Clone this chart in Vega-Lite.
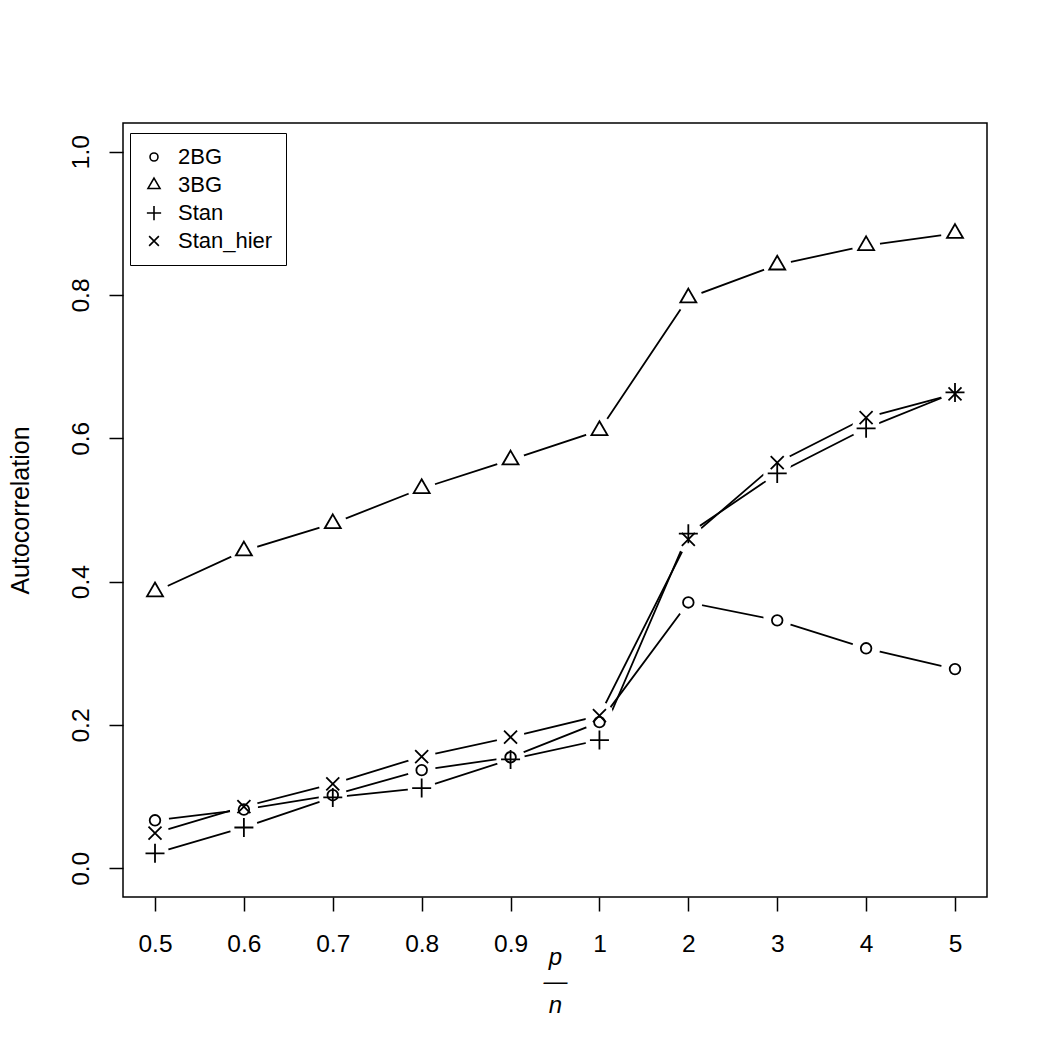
{
  "$schema": "https://vega.github.io/schema/vega-lite/v6.json",
  "autosize": "none",
  "width": 864,
  "height": 774,
  "padding": {"left": 123, "top": 123, "right": 63, "bottom": 153},
  "background": "white",
  "config": {
    "font": "Liberation Sans",
    "view": {"stroke": "black", "strokeWidth": 1.5},
    "axis": {
      "domain": false,
      "grid": false,
      "ticks": true,
      "tickSize": 14,
      "tickWidth": 1.5,
      "tickColor": "black",
      "labelColor": "black",
      "labelFont": "Liberation Sans",
      "labelFontSize": 24.5,
      "titleColor": "black",
      "titleFont": "Liberation Sans",
      "titleFontSize": 25,
      "titleFontWeight": "normal"
    }
  },
  "data": {
    "values": [
      {"idx": 1, "series": "2BG", "value": 0.067},
      {"idx": 2, "series": "2BG", "value": 0.082},
      {"idx": 3, "series": "2BG", "value": 0.102},
      {"idx": 4, "series": "2BG", "value": 0.137},
      {"idx": 5, "series": "2BG", "value": 0.155},
      {"idx": 6, "series": "2BG", "value": 0.204},
      {"idx": 7, "series": "2BG", "value": 0.371},
      {"idx": 8, "series": "2BG", "value": 0.346},
      {"idx": 9, "series": "2BG", "value": 0.307},
      {"idx": 10, "series": "2BG", "value": 0.278},
      {"idx": 1, "series": "3BG", "value": 0.386},
      {"idx": 2, "series": "3BG", "value": 0.443},
      {"idx": 3, "series": "3BG", "value": 0.481},
      {"idx": 4, "series": "3BG", "value": 0.530},
      {"idx": 5, "series": "3BG", "value": 0.570},
      {"idx": 6, "series": "3BG", "value": 0.611},
      {"idx": 7, "series": "3BG", "value": 0.796},
      {"idx": 8, "series": "3BG", "value": 0.842},
      {"idx": 9, "series": "3BG", "value": 0.869},
      {"idx": 10, "series": "3BG", "value": 0.886},
      {"idx": 1, "series": "Stan", "value": 0.021},
      {"idx": 2, "series": "Stan", "value": 0.057},
      {"idx": 3, "series": "Stan", "value": 0.099},
      {"idx": 4, "series": "Stan", "value": 0.112},
      {"idx": 5, "series": "Stan", "value": 0.152},
      {"idx": 6, "series": "Stan", "value": 0.179},
      {"idx": 7, "series": "Stan", "value": 0.467},
      {"idx": 8, "series": "Stan", "value": 0.551},
      {"idx": 9, "series": "Stan", "value": 0.614},
      {"idx": 10, "series": "Stan", "value": 0.664},
      {"idx": 1, "series": "Stan_hier", "value": 0.049},
      {"idx": 2, "series": "Stan_hier", "value": 0.086},
      {"idx": 3, "series": "Stan_hier", "value": 0.118},
      {"idx": 4, "series": "Stan_hier", "value": 0.156},
      {"idx": 5, "series": "Stan_hier", "value": 0.183},
      {"idx": 6, "series": "Stan_hier", "value": 0.213},
      {"idx": 7, "series": "Stan_hier", "value": 0.459},
      {"idx": 8, "series": "Stan_hier", "value": 0.566},
      {"idx": 9, "series": "Stan_hier", "value": 0.629},
      {"idx": 10, "series": "Stan_hier", "value": 0.662}
    ]
  },
  "encoding": {
    "x": {
      "field": "idx",
      "type": "quantitative",
      "scale": {"domain": [0.64, 10.36], "nice": false, "zero": false},
      "axis": {
        "values": [1, 2, 3, 4, 5, 6, 7, 8, 9, 10],
        "labelExpr": "['0.5','0.6','0.7','0.8','0.9','1','2','3','4','5'][datum.value-1]",
        "labelPadding": 21,
        "labelBaseline": "top",
        "title": ["p", "—", "n"],
        "titleFontStyle": "italic",
        "titleFontSize": 24,
        "titleLineHeight": 24,
        "titleBaseline": "alphabetic",
        "titleAlign": "center",
        "titleX": 432,
        "titleY": 67
      }
    },
    "y": {
      "field": "value",
      "type": "quantitative",
      "scale": {"domain": [-0.04, 1.04], "nice": false, "zero": false},
      "axis": {
        "values": [0, 0.2, 0.4, 0.6, 0.8, 1.0],
        "format": ".1f",
        "labelAngle": 270,
        "labelAlign": "center",
        "labelBaseline": "alphabetic",
        "labelPadding": 21,
        "title": "Autocorrelation",
        "titleAngle": 270,
        "titleAlign": "center",
        "titleBaseline": "alphabetic",
        "titleX": -95,
        "titleY": 387
      }
    }
  },
  "layer": [
    {
      "mark": {"type": "line", "color": "black", "strokeWidth": 1.8},
      "encoding": {"detail": {"field": "series"}}
    },
    {
      "mark": {"type": "point", "shape": "circle", "filled": true, "color": "white", "opacity": 1, "size": 784, "strokeWidth": 0}
    },
    {
      "mark": {"type": "point", "filled": false, "color": "black", "opacity": 1, "strokeWidth": 1.8, "size": 400},
      "encoding": {
        "shape": {
          "field": "series",
          "type": "nominal",
          "scale": {
            "domain": ["2BG", "3BG", "Stan", "Stan_hier"],
            "range": [
              "M0.53,0A0.53,0.53 0 1,1 -0.53,0A0.53,0.53 0 1,1 0.53,0Z",
              "M0,-0.92L0.8,0.46L-0.8,0.46Z",
              "M-0.95,0L0.95,0M0,-0.95L0,0.95",
              "M-0.65,-0.65L0.65,0.65M-0.65,0.65L0.65,-0.65"
            ]
          },
          "legend": {
            "title": null,
            "orient": "none",
            "legendX": 7,
            "legendY": 10,
            "strokeColor": "black",
            "fillColor": "white",
            "padding": 13,
            "rowPadding": 6,
            "symbolSize": 225,
            "symbolStrokeWidth": 1.6,
            "symbolStrokeColor": "black",
            "symbolFillColor": "transparent",
            "labelFont": "Liberation Sans",
            "labelFontSize": 22,
            "labelColor": "black",
            "labelOffset": 13,
            "labelBaseline": "middle"
          }
        }
      }
    }
  ]
}
